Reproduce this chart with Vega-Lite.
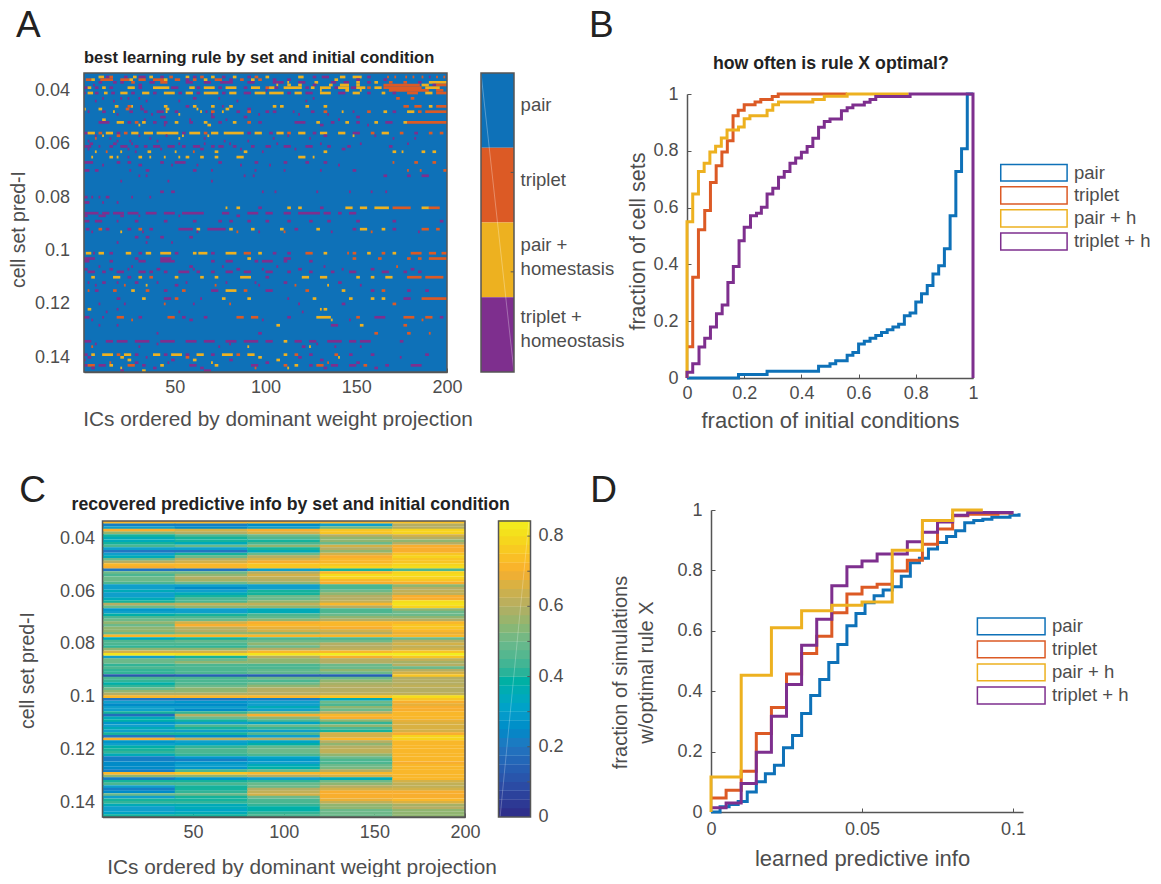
{"$schema":"https://vega.github.io/schema/vega-lite/v6.json","background":"white","padding":{"left":8,"top":6,"right":0,"bottom":0},"columns":3,"align":"none","bounds":"flush","spacing":{"row":132,"column":34},
"config":{"view":{"stroke":null},"font":"Liberation Sans","text":{"font":"Liberation Sans","color":"#4d4d4d"},"axis":{"labelFont":"Liberation Sans","titleFont":"Liberation Sans","labelFontSize":18,"titleFontSize":19.5,"titleFontWeight":"normal","labelColor":"#4d4d4d","titleColor":"#4d4d4d","domainColor":"#555","tickColor":"#555","domainWidth":1.5,"tickWidth":1,"grid":false,"tickSize":-4,"labelPadding":10,"labelOverlap":false,"labelBound":false,"labelFlush":false,"zindex":1}},
"datasets":{
"ruleCells":[
{"y":35,"x":8,"x2":11,"k":2},{"y":35,"x":12,"x2":14,"k":3},{"y":35,"x":14,"x2":16,"k":1},{"y":35,"x":22,"x2":24,"k":3},{"y":35,"x":27,"x2":29,"k":2},{"y":35,"x":30,"x2":34,"k":3},{"y":35,"x":36,"x2":38,"k":2},{"y":35,"x":42,"x2":44,"k":3},{"y":35,"x":47,"x2":49,"k":1},{"y":35,"x":56,"x2":58,"k":2},{"y":35,"x":60,"x2":62,"k":3},{"y":35,"x":64,"x2":66,"k":1},{"y":35,"x":70,"x2":72,"k":2},{"y":35,"x":76,"x2":78,"k":3},{"y":35,"x":82,"x2":84,"k":2},{"y":35,"x":90,"x2":92,"k":3},{"y":35,"x":94,"x2":96,"k":1},{"y":35,"x":100,"x2":102,"k":2},{"y":35,"x":118,"x2":121,"k":2},{"y":35,"x":126,"x2":128,"k":3},{"y":35,"x":131,"x2":135,"k":3},{"y":35,"x":141,"x2":144,"k":2},{"y":35,"x":148,"x2":153,"k":2},{"y":35,"x":156,"x2":158,"k":3},{"y":35,"x":167,"x2":168,"k":1},{"y":35,"x":171,"x2":172,"k":1},{"y":35,"x":177,"x2":178,"k":1},{"y":35,"x":181,"x2":182,"k":1},{"y":35,"x":186,"x2":187,"k":1},{"y":35,"x":190,"x2":191,"k":3},{"y":35,"x":194,"x2":195,"k":1},{"y":35,"x":198,"x2":199,"k":1},
{"y":36,"x":1,"x2":4,"k":1},{"y":36,"x":4,"x2":6,"k":2},{"y":36,"x":9,"x2":16,"k":1},{"y":36,"x":20,"x2":25,"k":1},{"y":36,"x":25,"x2":27,"k":2},{"y":36,"x":30,"x2":34,"k":1},{"y":36,"x":38,"x2":44,"k":1},{"y":36,"x":44,"x2":46,"k":2},{"y":36,"x":50,"x2":53,"k":1},{"y":36,"x":56,"x2":58,"k":3},{"y":36,"x":60,"x2":62,"k":1},{"y":36,"x":66,"x2":68,"k":2},{"y":36,"x":72,"x2":76,"k":1},{"y":36,"x":80,"x2":82,"k":3},{"y":36,"x":86,"x2":88,"k":1},{"y":36,"x":92,"x2":94,"k":2},{"y":36,"x":96,"x2":98,"k":1},{"y":36,"x":104,"x2":106,"k":3},{"y":36,"x":112,"x2":114,"k":3},{"y":36,"x":138,"x2":140,"k":2},{"y":36,"x":150,"x2":152,"k":3},{"y":36,"x":165,"x2":167,"k":3},
{"y":37,"x":8,"x2":10,"k":3},{"y":37,"x":16,"x2":18,"k":3},{"y":37,"x":20,"x2":22,"k":3},{"y":37,"x":26,"x2":28,"k":1},{"y":37,"x":36,"x2":39,"k":3},{"y":37,"x":42,"x2":46,"k":1},{"y":37,"x":56,"x2":60,"k":3},{"y":37,"x":66,"x2":70,"k":3},{"y":37,"x":75,"x2":82,"k":3},{"y":37,"x":90,"x2":94,"k":3},{"y":37,"x":104,"x2":110,"k":3},{"y":37,"x":112,"x2":113,"k":2},{"y":37,"x":118,"x2":122,"k":3},{"y":37,"x":127,"x2":129,"k":2},{"y":37,"x":136,"x2":139,"k":3},{"y":37,"x":143,"x2":146,"k":3},{"y":37,"x":150,"x2":152,"k":2},{"y":37,"x":156,"x2":158,"k":3},{"y":37,"x":160,"x2":162,"k":2},{"y":37,"x":168,"x2":170,"k":1},{"y":37,"x":176,"x2":178,"k":1},{"y":37,"x":184,"x2":186,"k":3},{"y":37,"x":190,"x2":200,"k":2},
{"y":38,"x":5,"x2":6,"k":3},{"y":38,"x":30,"x2":32,"k":3},{"y":38,"x":106,"x2":107,"k":2},{"y":38,"x":112,"x2":114,"k":2},{"y":38,"x":118,"x2":120,"k":2},{"y":38,"x":126,"x2":128,"k":3},{"y":38,"x":135,"x2":137,"k":2},{"y":38,"x":141,"x2":146,"k":2},{"y":38,"x":150,"x2":152,"k":2},{"y":38,"x":165,"x2":185,"k":1},{"y":38,"x":186,"x2":190,"k":2},{"y":38,"x":192,"x2":194,"k":3},{"y":38,"x":194,"x2":200,"k":1},
{"y":39,"x":0,"x2":2,"k":3},{"y":39,"x":2,"x2":4,"k":2},{"y":39,"x":6,"x2":8,"k":3},{"y":39,"x":10,"x2":12,"k":2},{"y":39,"x":14,"x2":16,"k":3},{"y":39,"x":24,"x2":28,"k":2},{"y":39,"x":30,"x2":32,"k":3},{"y":39,"x":38,"x2":47,"k":2},{"y":39,"x":48,"x2":52,"k":3},{"y":39,"x":58,"x2":61,"k":2},{"y":39,"x":62,"x2":64,"k":3},{"y":39,"x":66,"x2":72,"k":2},{"y":39,"x":74,"x2":76,"k":3},{"y":39,"x":78,"x2":84,"k":2},{"y":39,"x":88,"x2":90,"k":3},{"y":39,"x":92,"x2":97,"k":2},{"y":39,"x":100,"x2":102,"k":1},{"y":39,"x":102,"x2":105,"k":2},{"y":39,"x":105,"x2":107,"k":3},{"y":39,"x":110,"x2":120,"k":2},{"y":39,"x":122,"x2":124,"k":3},{"y":39,"x":125,"x2":127,"k":2},{"y":39,"x":130,"x2":136,"k":2},{"y":39,"x":138,"x2":140,"k":3},{"y":39,"x":140,"x2":146,"k":2},{"y":39,"x":147,"x2":150,"k":3},{"y":39,"x":150,"x2":155,"k":2},{"y":39,"x":156,"x2":158,"k":1},{"y":39,"x":160,"x2":164,"k":2},{"y":39,"x":165,"x2":186,"k":1},{"y":39,"x":188,"x2":196,"k":2},
{"y":40,"x":100,"x2":101,"k":3},{"y":40,"x":130,"x2":131,"k":2},{"y":40,"x":144,"x2":146,"k":2},{"y":40,"x":152,"x2":153,"k":2},{"y":40,"x":168,"x2":190,"k":1},{"y":40,"x":194,"x2":198,"k":1},
{"y":41,"x":0,"x2":1,"k":3},{"y":41,"x":2,"x2":5,"k":2},{"y":41,"x":6,"x2":8,"k":3},{"y":41,"x":11,"x2":13,"k":2},{"y":41,"x":15,"x2":17,"k":3},{"y":41,"x":20,"x2":24,"k":2},{"y":41,"x":26,"x2":28,"k":3},{"y":41,"x":32,"x2":36,"k":2},{"y":41,"x":38,"x2":40,"k":3},{"y":41,"x":44,"x2":50,"k":2},{"y":41,"x":52,"x2":54,"k":3},{"y":41,"x":56,"x2":60,"k":2},{"y":41,"x":62,"x2":64,"k":3},{"y":41,"x":66,"x2":74,"k":2},{"y":41,"x":76,"x2":78,"k":3},{"y":41,"x":80,"x2":84,"k":2},{"y":41,"x":88,"x2":92,"k":3},{"y":41,"x":94,"x2":100,"k":2},{"y":41,"x":102,"x2":110,"k":2},{"y":41,"x":112,"x2":114,"k":3},{"y":41,"x":116,"x2":120,"k":2},{"y":41,"x":122,"x2":126,"k":3},{"y":41,"x":130,"x2":136,"k":2},{"y":41,"x":140,"x2":144,"k":3},{"y":41,"x":148,"x2":152,"k":2},{"y":41,"x":156,"x2":158,"k":3},{"y":41,"x":164,"x2":166,"k":2},{"y":41,"x":170,"x2":172,"k":3},{"y":41,"x":178,"x2":184,"k":1},{"y":41,"x":188,"x2":192,"k":2},{"y":41,"x":194,"x2":200,"k":1},
{"y":43,"x":10,"x2":11,"k":3},{"y":43,"x":20,"x2":21,"k":3},{"y":43,"x":24,"x2":25,"k":3},{"y":43,"x":30,"x2":31,"k":3},{"y":43,"x":60,"x2":62,"k":3},{"y":43,"x":74,"x2":75,"k":3},{"y":43,"x":126,"x2":127,"k":3},{"y":43,"x":172,"x2":174,"k":1},{"y":43,"x":180,"x2":182,"k":1},
{"y":44,"x":6,"x2":7,"k":3},{"y":44,"x":16,"x2":17,"k":3},{"y":44,"x":34,"x2":35,"k":3},{"y":44,"x":52,"x2":53,"k":3},{"y":44,"x":84,"x2":85,"k":3},{"y":44,"x":122,"x2":123,"k":3},
{"y":46,"x":17,"x2":19,"k":2},{"y":46,"x":24,"x2":26,"k":1},{"y":46,"x":26,"x2":27,"k":2},{"y":46,"x":31,"x2":32,"k":3},{"y":46,"x":44,"x2":46,"k":2},{"y":46,"x":56,"x2":58,"k":3},{"y":46,"x":60,"x2":62,"k":2},{"y":46,"x":70,"x2":72,"k":2},{"y":46,"x":76,"x2":77,"k":3},{"y":46,"x":80,"x2":82,"k":2},{"y":46,"x":104,"x2":106,"k":2},{"y":46,"x":108,"x2":110,"k":2},{"y":46,"x":122,"x2":124,"k":2},{"y":46,"x":132,"x2":134,"k":2},{"y":46,"x":176,"x2":179,"k":1},{"y":46,"x":182,"x2":186,"k":1},{"y":46,"x":190,"x2":192,"k":2},{"y":46,"x":194,"x2":200,"k":1},
{"y":47,"x":0,"x2":1,"k":2},{"y":47,"x":8,"x2":10,"k":2},{"y":47,"x":23,"x2":25,"k":1},{"y":47,"x":31,"x2":33,"k":3},{"y":47,"x":45,"x2":47,"k":2},{"y":47,"x":62,"x2":63,"k":2},{"y":47,"x":78,"x2":80,"k":2},{"y":47,"x":90,"x2":92,"k":3},
{"y":48,"x":2,"x2":3,"k":3},{"y":48,"x":10,"x2":12,"k":3},{"y":48,"x":16,"x2":17,"k":2},{"y":48,"x":25,"x2":27,"k":3},{"y":48,"x":33,"x2":35,"k":3},{"y":48,"x":40,"x2":44,"k":3},{"y":48,"x":45,"x2":46,"k":2},{"y":48,"x":50,"x2":52,"k":3},{"y":48,"x":64,"x2":65,"k":2},{"y":48,"x":67,"x2":68,"k":3},{"y":48,"x":70,"x2":72,"k":1},{"y":48,"x":76,"x2":77,"k":2},{"y":48,"x":84,"x2":86,"k":3},{"y":48,"x":90,"x2":92,"k":1},{"y":48,"x":100,"x2":102,"k":3},{"y":48,"x":104,"x2":106,"k":3},{"y":48,"x":115,"x2":116,"k":3},{"y":48,"x":125,"x2":127,"k":3},{"y":48,"x":132,"x2":134,"k":1},{"y":48,"x":142,"x2":143,"k":2},{"y":48,"x":148,"x2":149,"k":3},{"y":48,"x":156,"x2":158,"k":1},{"y":48,"x":165,"x2":167,"k":2},{"y":48,"x":170,"x2":172,"k":3},{"y":48,"x":178,"x2":182,"k":2},{"y":48,"x":184,"x2":186,"k":1},{"y":48,"x":188,"x2":200,"k":1},
{"y":49,"x":18,"x2":19,"k":3},{"y":49,"x":37,"x2":38,"k":3},{"y":49,"x":52,"x2":53,"k":2},{"y":49,"x":70,"x2":71,"k":3},{"y":49,"x":96,"x2":97,"k":3},{"y":49,"x":118,"x2":119,"k":3},{"y":49,"x":134,"x2":135,"k":3},
{"y":50,"x":42,"x2":45,"k":3},{"y":50,"x":70,"x2":72,"k":3},{"y":50,"x":88,"x2":90,"k":3},{"y":50,"x":150,"x2":152,"k":3},
{"y":51,"x":10,"x2":12,"k":2},{"y":51,"x":33,"x2":34,"k":3},{"y":51,"x":58,"x2":59,"k":3},{"y":51,"x":78,"x2":79,"k":3},{"y":51,"x":140,"x2":141,"k":3},
{"y":52,"x":8,"x2":14,"k":3},{"y":52,"x":18,"x2":22,"k":2},{"y":52,"x":24,"x2":26,"k":3},{"y":52,"x":28,"x2":30,"k":1},{"y":52,"x":32,"x2":34,"k":2},{"y":52,"x":38,"x2":40,"k":3},{"y":52,"x":44,"x2":46,"k":3},{"y":52,"x":50,"x2":52,"k":2},{"y":52,"x":58,"x2":60,"k":3},{"y":52,"x":66,"x2":68,"k":2},{"y":52,"x":74,"x2":76,"k":3},{"y":52,"x":82,"x2":84,"k":2},{"y":52,"x":90,"x2":92,"k":1},{"y":52,"x":96,"x2":98,"k":3},{"y":52,"x":116,"x2":122,"k":3},{"y":52,"x":128,"x2":130,"k":2},{"y":52,"x":136,"x2":138,"k":3},{"y":52,"x":144,"x2":146,"k":2},{"y":52,"x":150,"x2":152,"k":3},{"y":52,"x":160,"x2":162,"k":2},{"y":52,"x":166,"x2":170,"k":3},{"y":52,"x":176,"x2":178,"k":2},{"y":52,"x":178,"x2":200,"k":1},
{"y":53,"x":30,"x2":31,"k":2},{"y":53,"x":44,"x2":45,"k":3},{"y":53,"x":68,"x2":70,"k":2},{"y":53,"x":130,"x2":132,"k":3},{"y":53,"x":156,"x2":157,"k":3},
{"y":56,"x":0,"x2":2,"k":3},{"y":56,"x":2,"x2":6,"k":2},{"y":56,"x":8,"x2":10,"k":1},{"y":56,"x":12,"x2":16,"k":2},{"y":56,"x":18,"x2":20,"k":3},{"y":56,"x":22,"x2":24,"k":1},{"y":56,"x":26,"x2":30,"k":2},{"y":56,"x":33,"x2":38,"k":2},{"y":56,"x":40,"x2":52,"k":2},{"y":56,"x":54,"x2":56,"k":3},{"y":56,"x":58,"x2":64,"k":2},{"y":56,"x":66,"x2":68,"k":1},{"y":56,"x":70,"x2":74,"k":2},{"y":56,"x":77,"x2":88,"k":2},{"y":56,"x":90,"x2":92,"k":3},{"y":56,"x":94,"x2":98,"k":2},{"y":56,"x":102,"x2":104,"k":3},{"y":56,"x":106,"x2":110,"k":2},{"y":56,"x":112,"x2":114,"k":1},{"y":56,"x":118,"x2":122,"k":2},{"y":56,"x":126,"x2":128,"k":3},{"y":56,"x":130,"x2":134,"k":2},{"y":56,"x":140,"x2":144,"k":2},{"y":56,"x":148,"x2":152,"k":3},{"y":56,"x":158,"x2":160,"k":1},{"y":56,"x":164,"x2":168,"k":2},{"y":56,"x":174,"x2":176,"k":1},{"y":56,"x":182,"x2":184,"k":3},{"y":56,"x":190,"x2":192,"k":1},{"y":56,"x":196,"x2":198,"k":1},
{"y":57,"x":6,"x2":7,"k":3},{"y":57,"x":10,"x2":11,"k":2},{"y":57,"x":18,"x2":20,"k":1},{"y":57,"x":30,"x2":31,"k":3},{"y":57,"x":45,"x2":46,"k":3},{"y":57,"x":54,"x2":55,"k":2},{"y":57,"x":68,"x2":69,"k":2},{"y":57,"x":112,"x2":113,"k":3},{"y":57,"x":132,"x2":134,"k":3},{"y":57,"x":148,"x2":149,"k":2},{"y":57,"x":160,"x2":161,"k":3},
{"y":58,"x":6,"x2":7,"k":1},{"y":58,"x":14,"x2":15,"k":3},{"y":58,"x":36,"x2":37,"k":3},{"y":58,"x":52,"x2":53,"k":2},{"y":58,"x":66,"x2":67,"k":3},{"y":58,"x":104,"x2":105,"k":3},{"y":58,"x":124,"x2":125,"k":3},{"y":58,"x":170,"x2":171,"k":3},{"y":58,"x":182,"x2":183,"k":3},
{"y":59,"x":2,"x2":3,"k":3},{"y":59,"x":18,"x2":19,"k":3},{"y":59,"x":25,"x2":26,"k":3},{"y":59,"x":40,"x2":41,"k":3},{"y":59,"x":77,"x2":78,"k":3},{"y":59,"x":90,"x2":91,"k":3},
{"y":60,"x":3,"x2":5,"k":3},{"y":60,"x":16,"x2":18,"k":3},{"y":60,"x":26,"x2":27,"k":3},{"y":60,"x":52,"x2":53,"k":3},{"y":60,"x":66,"x2":67,"k":3},{"y":60,"x":80,"x2":81,"k":3},{"y":60,"x":106,"x2":107,"k":3},{"y":60,"x":130,"x2":131,"k":3},{"y":60,"x":152,"x2":153,"k":3},{"y":60,"x":178,"x2":179,"k":3},
{"y":61,"x":0,"x2":4,"k":3},{"y":61,"x":8,"x2":9,"k":3},{"y":61,"x":14,"x2":16,"k":3},{"y":61,"x":20,"x2":24,"k":3},{"y":61,"x":28,"x2":30,"k":3},{"y":61,"x":33,"x2":35,"k":3},{"y":61,"x":38,"x2":42,"k":3},{"y":61,"x":46,"x2":50,"k":3},{"y":61,"x":54,"x2":56,"k":3},{"y":61,"x":60,"x2":64,"k":3},{"y":61,"x":70,"x2":72,"k":3},{"y":61,"x":74,"x2":77,"k":3},{"y":61,"x":82,"x2":84,"k":3},{"y":61,"x":92,"x2":94,"k":3},{"y":61,"x":100,"x2":103,"k":3},{"y":61,"x":110,"x2":114,"k":3},{"y":61,"x":122,"x2":126,"k":3},{"y":61,"x":134,"x2":136,"k":3},{"y":61,"x":145,"x2":147,"k":3},{"y":61,"x":168,"x2":170,"k":3},
{"y":62,"x":2,"x2":3,"k":3},{"y":62,"x":24,"x2":25,"k":3},{"y":62,"x":42,"x2":43,"k":3},{"y":62,"x":64,"x2":66,"k":3},{"y":62,"x":86,"x2":87,"k":3},{"y":62,"x":116,"x2":117,"k":3},{"y":62,"x":142,"x2":144,"k":3},
{"y":63,"x":6,"x2":7,"k":2},{"y":63,"x":12,"x2":13,"k":1},{"y":63,"x":20,"x2":21,"k":2},{"y":63,"x":28,"x2":29,"k":3},{"y":63,"x":35,"x2":37,"k":2},{"y":63,"x":50,"x2":51,"k":2},{"y":63,"x":60,"x2":61,"k":1},{"y":63,"x":72,"x2":74,"k":2},{"y":63,"x":88,"x2":90,"k":2},{"y":63,"x":98,"x2":99,"k":3},{"y":63,"x":132,"x2":134,"k":2},{"y":63,"x":170,"x2":172,"k":2},{"y":63,"x":175,"x2":176,"k":2},{"y":63,"x":186,"x2":188,"k":2},{"y":63,"x":192,"x2":194,"k":2},
{"y":65,"x":4,"x2":5,"k":2},{"y":65,"x":14,"x2":16,"k":2},{"y":65,"x":18,"x2":19,"k":2},{"y":65,"x":24,"x2":25,"k":3},{"y":65,"x":30,"x2":32,"k":2},{"y":65,"x":36,"x2":37,"k":2},{"y":65,"x":44,"x2":45,"k":2},{"y":65,"x":52,"x2":53,"k":2},{"y":65,"x":56,"x2":58,"k":2},{"y":65,"x":64,"x2":66,"k":2},{"y":65,"x":72,"x2":74,"k":2},{"y":65,"x":84,"x2":88,"k":2},{"y":65,"x":118,"x2":122,"k":2},{"y":65,"x":126,"x2":127,"k":2},
{"y":67,"x":0,"x2":5,"k":3},{"y":67,"x":18,"x2":20,"k":3},{"y":67,"x":24,"x2":26,"k":3},{"y":67,"x":42,"x2":44,"k":3},{"y":67,"x":50,"x2":56,"k":3},{"y":67,"x":74,"x2":76,"k":3},{"y":67,"x":94,"x2":96,"k":3},{"y":67,"x":110,"x2":112,"k":3},{"y":67,"x":122,"x2":124,"k":3},{"y":67,"x":132,"x2":134,"k":3},{"y":67,"x":170,"x2":171,"k":1},{"y":67,"x":182,"x2":184,"k":1},{"y":67,"x":192,"x2":194,"k":1},
{"y":68,"x":10,"x2":11,"k":3},{"y":68,"x":30,"x2":32,"k":3},{"y":68,"x":48,"x2":49,"k":3},{"y":68,"x":62,"x2":63,"k":3},{"y":68,"x":86,"x2":87,"k":3},{"y":68,"x":102,"x2":103,"k":3},{"y":68,"x":140,"x2":141,"k":3},
{"y":70,"x":0,"x2":3,"k":3},{"y":70,"x":6,"x2":8,"k":3},{"y":70,"x":25,"x2":26,"k":3},{"y":70,"x":34,"x2":36,"k":3},{"y":70,"x":60,"x2":62,"k":3},{"y":70,"x":70,"x2":71,"k":3},{"y":70,"x":94,"x2":95,"k":3},{"y":70,"x":110,"x2":111,"k":3},{"y":70,"x":130,"x2":131,"k":3},{"y":70,"x":148,"x2":150,"k":3},{"y":70,"x":178,"x2":179,"k":1},{"y":70,"x":185,"x2":186,"k":1},{"y":70,"x":198,"x2":200,"k":1},
{"y":72,"x":30,"x2":31,"k":3},{"y":72,"x":34,"x2":35,"k":3},{"y":72,"x":88,"x2":89,"k":3},{"y":72,"x":93,"x2":94,"k":3},{"y":72,"x":165,"x2":167,"k":3},{"y":72,"x":178,"x2":180,"k":3},{"y":72,"x":186,"x2":190,"k":3},
{"y":74,"x":20,"x2":21,"k":3},{"y":74,"x":46,"x2":47,"k":3},{"y":74,"x":70,"x2":71,"k":3},
{"y":78,"x":42,"x2":44,"k":3},{"y":78,"x":48,"x2":50,"k":3},{"y":78,"x":98,"x2":99,"k":3},{"y":78,"x":105,"x2":106,"k":3},{"y":78,"x":128,"x2":129,"k":3},{"y":78,"x":146,"x2":147,"k":3},{"y":78,"x":158,"x2":159,"k":3},{"y":78,"x":166,"x2":167,"k":3},
{"y":80,"x":0,"x2":2,"k":3},{"y":80,"x":4,"x2":5,"k":3},{"y":80,"x":8,"x2":9,"k":3},{"y":80,"x":12,"x2":14,"k":3},{"y":80,"x":26,"x2":27,"k":3},{"y":80,"x":36,"x2":37,"k":3},
{"y":82,"x":0,"x2":3,"k":3},{"y":82,"x":10,"x2":11,"k":3},{"y":82,"x":18,"x2":19,"k":3},
{"y":84,"x":78,"x2":79,"k":2},{"y":84,"x":84,"x2":86,"k":2},{"y":84,"x":96,"x2":98,"k":3},{"y":84,"x":112,"x2":114,"k":2},{"y":84,"x":118,"x2":120,"k":2},{"y":84,"x":130,"x2":132,"k":3},{"y":84,"x":144,"x2":148,"k":2},{"y":84,"x":152,"x2":156,"k":2},{"y":84,"x":160,"x2":168,"k":2},{"y":84,"x":170,"x2":180,"k":1},{"y":84,"x":186,"x2":190,"k":2},{"y":84,"x":190,"x2":196,"k":1},
{"y":86,"x":0,"x2":8,"k":3},{"y":86,"x":10,"x2":14,"k":3},{"y":86,"x":16,"x2":22,"k":3},{"y":86,"x":24,"x2":30,"k":3},{"y":86,"x":34,"x2":40,"k":3},{"y":86,"x":44,"x2":50,"k":3},{"y":86,"x":54,"x2":66,"k":3},{"y":86,"x":76,"x2":80,"k":3},{"y":86,"x":90,"x2":96,"k":3},{"y":86,"x":100,"x2":104,"k":3},{"y":86,"x":110,"x2":114,"k":3},{"y":86,"x":118,"x2":130,"k":3},{"y":86,"x":132,"x2":136,"k":3},{"y":86,"x":140,"x2":142,"k":3},{"y":86,"x":146,"x2":150,"k":3},
{"y":87,"x":0,"x2":2,"k":3},{"y":87,"x":8,"x2":12,"k":3},{"y":87,"x":20,"x2":22,"k":3},{"y":87,"x":30,"x2":31,"k":3},{"y":87,"x":52,"x2":53,"k":3},{"y":87,"x":84,"x2":86,"k":3},
{"y":89,"x":0,"x2":3,"k":3},{"y":89,"x":6,"x2":10,"k":3},{"y":89,"x":18,"x2":19,"k":3},{"y":89,"x":28,"x2":30,"k":3},{"y":89,"x":44,"x2":46,"k":3},{"y":89,"x":60,"x2":62,"k":3},{"y":89,"x":74,"x2":76,"k":3},{"y":89,"x":80,"x2":82,"k":3},{"y":89,"x":90,"x2":92,"k":3},{"y":89,"x":100,"x2":102,"k":3},{"y":89,"x":112,"x2":114,"k":3},{"y":89,"x":124,"x2":126,"k":3},{"y":89,"x":134,"x2":136,"k":3},{"y":89,"x":150,"x2":152,"k":3},{"y":89,"x":170,"x2":172,"k":3},{"y":89,"x":196,"x2":198,"k":3},
{"y":92,"x":1,"x2":3,"k":3},{"y":92,"x":8,"x2":10,"k":1},{"y":92,"x":12,"x2":14,"k":3},{"y":92,"x":24,"x2":26,"k":3},{"y":92,"x":30,"x2":32,"k":1},{"y":92,"x":36,"x2":38,"k":3},{"y":92,"x":52,"x2":60,"k":3},{"y":92,"x":62,"x2":64,"k":2},{"y":92,"x":68,"x2":78,"k":3},{"y":92,"x":80,"x2":82,"k":2},{"y":92,"x":92,"x2":94,"k":2},{"y":92,"x":108,"x2":110,"k":2},{"y":92,"x":116,"x2":118,"k":3},{"y":92,"x":128,"x2":130,"k":2},{"y":92,"x":148,"x2":150,"k":3},{"y":92,"x":152,"x2":156,"k":2},{"y":92,"x":164,"x2":166,"k":2},{"y":92,"x":170,"x2":172,"k":3},{"y":92,"x":186,"x2":190,"k":1},{"y":92,"x":194,"x2":196,"k":1},
{"y":93,"x":4,"x2":5,"k":3},{"y":93,"x":20,"x2":21,"k":2},{"y":93,"x":32,"x2":33,"k":3},{"y":93,"x":62,"x2":63,"k":3},{"y":93,"x":84,"x2":85,"k":1},{"y":93,"x":96,"x2":97,"k":3},{"y":93,"x":110,"x2":111,"k":1},{"y":93,"x":136,"x2":137,"k":3},{"y":93,"x":158,"x2":159,"k":1},{"y":93,"x":184,"x2":185,"k":3},
{"y":95,"x":28,"x2":30,"k":3},{"y":95,"x":34,"x2":36,"k":3},{"y":95,"x":42,"x2":44,"k":3},{"y":95,"x":58,"x2":60,"k":3},
{"y":97,"x":18,"x2":19,"k":3},{"y":97,"x":34,"x2":35,"k":3},{"y":97,"x":48,"x2":49,"k":3},
{"y":101,"x":1,"x2":4,"k":2},{"y":101,"x":5,"x2":6,"k":3},{"y":101,"x":8,"x2":11,"k":2},{"y":101,"x":14,"x2":16,"k":3},{"y":101,"x":23,"x2":26,"k":2},{"y":101,"x":30,"x2":32,"k":3},{"y":101,"x":34,"x2":37,"k":2},{"y":101,"x":42,"x2":48,"k":2},{"y":101,"x":50,"x2":52,"k":3},{"y":101,"x":60,"x2":62,"k":2},{"y":101,"x":63,"x2":68,"k":2},{"y":101,"x":70,"x2":72,"k":3},{"y":101,"x":78,"x2":84,"k":2},{"y":101,"x":88,"x2":92,"k":1},{"y":101,"x":96,"x2":98,"k":2},{"y":101,"x":104,"x2":106,"k":3},{"y":101,"x":112,"x2":114,"k":3},{"y":101,"x":122,"x2":126,"k":1},{"y":101,"x":132,"x2":134,"k":2},{"y":101,"x":145,"x2":146,"k":1},{"y":101,"x":148,"x2":150,"k":1},{"y":101,"x":156,"x2":158,"k":2},{"y":101,"x":164,"x2":166,"k":1},{"y":101,"x":170,"x2":172,"k":2},{"y":101,"x":180,"x2":186,"k":1},{"y":101,"x":190,"x2":194,"k":1},{"y":101,"x":197,"x2":200,"k":1},
{"y":103,"x":0,"x2":6,"k":3},{"y":103,"x":28,"x2":30,"k":3},{"y":103,"x":42,"x2":48,"k":3},{"y":103,"x":90,"x2":92,"k":2},{"y":103,"x":110,"x2":114,"k":3},{"y":103,"x":148,"x2":150,"k":1},{"y":103,"x":162,"x2":164,"k":1},{"y":103,"x":178,"x2":180,"k":1},{"y":103,"x":184,"x2":186,"k":1},{"y":103,"x":190,"x2":200,"k":1},
{"y":104,"x":0,"x2":3,"k":3},{"y":104,"x":14,"x2":16,"k":3},{"y":104,"x":30,"x2":34,"k":3},{"y":104,"x":42,"x2":50,"k":3},{"y":104,"x":70,"x2":72,"k":3},{"y":104,"x":78,"x2":82,"k":3},{"y":104,"x":94,"x2":96,"k":3},{"y":104,"x":98,"x2":104,"k":3},{"y":104,"x":110,"x2":112,"k":3},{"y":104,"x":124,"x2":126,"k":3},
{"y":106,"x":8,"x2":9,"k":3},{"y":106,"x":26,"x2":27,"k":3},{"y":106,"x":58,"x2":60,"k":3},{"y":106,"x":76,"x2":77,"k":3},{"y":106,"x":106,"x2":107,"k":3},{"y":106,"x":132,"x2":133,"k":3},{"y":106,"x":172,"x2":173,"k":1},
{"y":107,"x":0,"x2":2,"k":3},{"y":107,"x":14,"x2":16,"k":3},{"y":107,"x":24,"x2":25,"k":3},{"y":107,"x":40,"x2":42,"k":3},{"y":107,"x":60,"x2":61,"k":3},{"y":107,"x":84,"x2":86,"k":3},{"y":107,"x":98,"x2":99,"k":3},{"y":107,"x":118,"x2":120,"k":3},{"y":107,"x":142,"x2":143,"k":3},{"y":107,"x":158,"x2":160,"k":3},{"y":107,"x":180,"x2":182,"k":3},
{"y":108,"x":2,"x2":6,"k":3},{"y":108,"x":10,"x2":12,"k":3},{"y":108,"x":18,"x2":22,"k":3},{"y":108,"x":30,"x2":34,"k":3},{"y":108,"x":36,"x2":38,"k":3},{"y":108,"x":44,"x2":46,"k":3},{"y":108,"x":52,"x2":58,"k":3},{"y":108,"x":62,"x2":64,"k":3},{"y":108,"x":70,"x2":72,"k":3},{"y":108,"x":78,"x2":82,"k":3},{"y":108,"x":88,"x2":92,"k":3},{"y":108,"x":100,"x2":104,"k":3},{"y":108,"x":112,"x2":114,"k":3},{"y":108,"x":124,"x2":126,"k":3},{"y":108,"x":136,"x2":138,"k":3},{"y":108,"x":146,"x2":150,"k":3},{"y":108,"x":164,"x2":168,"k":3},{"y":108,"x":176,"x2":178,"k":3},{"y":108,"x":184,"x2":186,"k":3},
{"y":110,"x":4,"x2":6,"k":2},{"y":110,"x":16,"x2":20,"k":2},{"y":110,"x":24,"x2":26,"k":3},{"y":110,"x":30,"x2":32,"k":2},{"y":110,"x":36,"x2":38,"k":1},{"y":110,"x":50,"x2":52,"k":2},{"y":110,"x":64,"x2":66,"k":2},{"y":110,"x":72,"x2":74,"k":2},{"y":110,"x":86,"x2":92,"k":2},{"y":110,"x":100,"x2":102,"k":3},{"y":110,"x":120,"x2":124,"k":2},{"y":110,"x":130,"x2":134,"k":2},{"y":110,"x":150,"x2":152,"k":2},{"y":110,"x":158,"x2":160,"k":2},{"y":110,"x":166,"x2":170,"k":2},{"y":110,"x":178,"x2":186,"k":1},{"y":110,"x":188,"x2":198,"k":1},
{"y":112,"x":2,"x2":3,"k":3},{"y":112,"x":10,"x2":12,"k":3},{"y":112,"x":18,"x2":19,"k":3},{"y":112,"x":28,"x2":30,"k":3},{"y":112,"x":40,"x2":41,"k":3},{"y":112,"x":56,"x2":57,"k":3},{"y":112,"x":78,"x2":79,"k":3},{"y":112,"x":94,"x2":95,"k":3},{"y":112,"x":110,"x2":112,"k":3},{"y":112,"x":140,"x2":142,"k":3},
{"y":113,"x":6,"x2":7,"k":3},{"y":113,"x":22,"x2":23,"k":1},{"y":113,"x":34,"x2":35,"k":2},{"y":113,"x":50,"x2":52,"k":3},{"y":113,"x":72,"x2":73,"k":1},{"y":113,"x":96,"x2":97,"k":3},{"y":113,"x":116,"x2":117,"k":1},{"y":113,"x":134,"x2":135,"k":2},{"y":113,"x":152,"x2":153,"k":3},
{"y":115,"x":2,"x2":3,"k":1},{"y":115,"x":6,"x2":8,"k":3},{"y":115,"x":16,"x2":18,"k":1},{"y":115,"x":26,"x2":28,"k":2},{"y":115,"x":34,"x2":36,"k":1},{"y":115,"x":44,"x2":46,"k":3},{"y":115,"x":54,"x2":56,"k":1},{"y":115,"x":70,"x2":74,"k":3},{"y":115,"x":78,"x2":84,"k":2},{"y":115,"x":88,"x2":90,"k":1},{"y":115,"x":100,"x2":104,"k":3},{"y":115,"x":122,"x2":124,"k":1},{"y":115,"x":142,"x2":144,"k":2},{"y":115,"x":158,"x2":160,"k":3},{"y":115,"x":164,"x2":166,"k":1},{"y":115,"x":178,"x2":180,"k":3},{"y":115,"x":188,"x2":190,"k":3},
{"y":118,"x":18,"x2":20,"k":3},{"y":118,"x":32,"x2":34,"k":2},{"y":118,"x":44,"x2":48,"k":3},{"y":118,"x":50,"x2":52,"k":1},{"y":118,"x":64,"x2":65,"k":3},{"y":118,"x":76,"x2":78,"k":2},{"y":118,"x":90,"x2":92,"k":2},{"y":118,"x":112,"x2":113,"k":3},{"y":118,"x":126,"x2":128,"k":2},{"y":118,"x":146,"x2":148,"k":2},{"y":118,"x":158,"x2":160,"k":2},{"y":118,"x":164,"x2":166,"k":2},{"y":118,"x":176,"x2":180,"k":3},{"y":118,"x":186,"x2":200,"k":1},
{"y":120,"x":8,"x2":9,"k":3},{"y":120,"x":22,"x2":23,"k":3},{"y":120,"x":44,"x2":45,"k":1},{"y":120,"x":60,"x2":61,"k":3},{"y":120,"x":80,"x2":81,"k":1},{"y":120,"x":118,"x2":119,"k":3},{"y":120,"x":142,"x2":144,"k":3},{"y":120,"x":170,"x2":172,"k":1},
{"y":122,"x":2,"x2":4,"k":2},{"y":122,"x":18,"x2":19,"k":3},{"y":122,"x":130,"x2":131,"k":2},{"y":122,"x":132,"x2":134,"k":2},
{"y":123,"x":12,"x2":13,"k":3},{"y":123,"x":52,"x2":53,"k":3},{"y":123,"x":120,"x2":121,"k":3},
{"y":125,"x":0,"x2":3,"k":3},{"y":125,"x":10,"x2":11,"k":3},{"y":125,"x":18,"x2":22,"k":1},{"y":125,"x":30,"x2":32,"k":3},{"y":125,"x":46,"x2":50,"k":1},{"y":125,"x":54,"x2":56,"k":3},{"y":125,"x":66,"x2":68,"k":3},{"y":125,"x":84,"x2":88,"k":1},{"y":125,"x":92,"x2":96,"k":1},{"y":125,"x":112,"x2":114,"k":3},{"y":125,"x":128,"x2":136,"k":2},{"y":125,"x":150,"x2":152,"k":1},{"y":125,"x":160,"x2":166,"k":3},{"y":125,"x":176,"x2":182,"k":1},{"y":125,"x":188,"x2":192,"k":1},{"y":125,"x":196,"x2":198,"k":3},
{"y":126,"x":4,"x2":5,"k":3},{"y":126,"x":26,"x2":27,"k":1},{"y":126,"x":58,"x2":60,"k":3},{"y":126,"x":98,"x2":99,"k":3},{"y":126,"x":136,"x2":137,"k":2},{"y":126,"x":146,"x2":147,"k":3},{"y":126,"x":186,"x2":187,"k":1},
{"y":128,"x":8,"x2":9,"k":3},{"y":128,"x":18,"x2":19,"k":3},{"y":128,"x":106,"x2":108,"k":2},{"y":128,"x":136,"x2":140,"k":3},{"y":128,"x":152,"x2":154,"k":2},{"y":128,"x":176,"x2":178,"k":1},
{"y":131,"x":40,"x2":41,"k":3},{"y":131,"x":96,"x2":98,"k":3},{"y":131,"x":160,"x2":162,"k":1},{"y":131,"x":178,"x2":180,"k":1},{"y":131,"x":190,"x2":191,"k":1},
{"y":134,"x":0,"x2":4,"k":3},{"y":134,"x":12,"x2":16,"k":3},{"y":134,"x":18,"x2":24,"k":3},{"y":134,"x":28,"x2":36,"k":3},{"y":134,"x":42,"x2":50,"k":3},{"y":134,"x":56,"x2":62,"k":3},{"y":134,"x":66,"x2":72,"k":3},{"y":134,"x":78,"x2":84,"k":3},{"y":134,"x":88,"x2":96,"k":3},{"y":134,"x":100,"x2":104,"k":3},{"y":134,"x":110,"x2":112,"k":2},{"y":134,"x":116,"x2":120,"k":3},{"y":134,"x":124,"x2":128,"k":3},{"y":134,"x":134,"x2":142,"k":3},{"y":134,"x":146,"x2":150,"k":3},{"y":134,"x":152,"x2":158,"k":3},{"y":134,"x":174,"x2":176,"k":3},
{"y":135,"x":6,"x2":7,"k":3},{"y":135,"x":40,"x2":41,"k":3},{"y":135,"x":80,"x2":81,"k":3},{"y":135,"x":128,"x2":129,"k":3},
{"y":136,"x":4,"x2":5,"k":1},{"y":136,"x":30,"x2":31,"k":3},{"y":136,"x":74,"x2":75,"k":3},{"y":136,"x":90,"x2":91,"k":2},{"y":136,"x":120,"x2":122,"k":3},{"y":136,"x":124,"x2":125,"k":2},{"y":136,"x":138,"x2":139,"k":3},{"y":136,"x":152,"x2":153,"k":3},
{"y":139,"x":0,"x2":2,"k":3},{"y":139,"x":4,"x2":6,"k":2},{"y":139,"x":10,"x2":16,"k":2},{"y":139,"x":18,"x2":20,"k":1},{"y":139,"x":22,"x2":26,"k":2},{"y":139,"x":28,"x2":30,"k":3},{"y":139,"x":38,"x2":42,"k":2},{"y":139,"x":44,"x2":46,"k":3},{"y":139,"x":48,"x2":54,"k":2},{"y":139,"x":56,"x2":58,"k":3},{"y":139,"x":62,"x2":66,"k":2},{"y":139,"x":70,"x2":72,"k":3},{"y":139,"x":76,"x2":82,"k":2},{"y":139,"x":84,"x2":86,"k":1},{"y":139,"x":90,"x2":94,"k":2},{"y":139,"x":110,"x2":112,"k":2},{"y":139,"x":116,"x2":118,"k":1},{"y":139,"x":124,"x2":126,"k":3},{"y":139,"x":138,"x2":140,"k":1},{"y":139,"x":146,"x2":148,"k":3},{"y":139,"x":158,"x2":160,"k":3},{"y":139,"x":188,"x2":190,"k":3},
{"y":140,"x":2,"x2":4,"k":3},{"y":140,"x":20,"x2":22,"k":2},{"y":140,"x":34,"x2":35,"k":3},{"y":140,"x":56,"x2":58,"k":1},{"y":140,"x":96,"x2":98,"k":2},{"y":140,"x":118,"x2":120,"k":3},{"y":140,"x":140,"x2":141,"k":2},{"y":140,"x":174,"x2":175,"k":3},
{"y":141,"x":0,"x2":1,"k":3},{"y":141,"x":24,"x2":26,"k":2},{"y":141,"x":48,"x2":50,"k":3},{"y":141,"x":60,"x2":62,"k":2},{"y":141,"x":80,"x2":82,"k":3},{"y":141,"x":106,"x2":108,"k":2},{"y":141,"x":130,"x2":132,"k":3},
{"y":142,"x":14,"x2":15,"k":1},{"y":142,"x":28,"x2":30,"k":3},{"y":142,"x":46,"x2":47,"k":3},{"y":142,"x":70,"x2":71,"k":2},{"y":142,"x":100,"x2":102,"k":3},{"y":142,"x":134,"x2":135,"k":1},{"y":142,"x":150,"x2":152,"k":3},
{"y":143,"x":0,"x2":2,"k":3},{"y":143,"x":2,"x2":6,"k":1},{"y":143,"x":8,"x2":12,"k":3},{"y":143,"x":14,"x2":16,"k":2},{"y":143,"x":24,"x2":28,"k":1},{"y":143,"x":32,"x2":34,"k":3},{"y":143,"x":42,"x2":44,"k":2},{"y":143,"x":58,"x2":62,"k":3},{"y":143,"x":72,"x2":74,"k":2},{"y":143,"x":92,"x2":96,"k":3},{"y":143,"x":110,"x2":112,"k":1},{"y":143,"x":116,"x2":118,"k":2},{"y":143,"x":124,"x2":126,"k":3},{"y":143,"x":128,"x2":132,"k":1},{"y":143,"x":136,"x2":140,"k":3},{"y":143,"x":146,"x2":150,"k":3},{"y":143,"x":154,"x2":156,"k":1},{"y":143,"x":166,"x2":168,"k":3},{"y":143,"x":180,"x2":186,"k":3},
{"y":144,"x":4,"x2":6,"k":3},{"y":144,"x":20,"x2":21,"k":2},{"y":144,"x":38,"x2":40,"k":3},{"y":144,"x":64,"x2":66,"k":3},{"y":144,"x":94,"x2":95,"k":1},{"y":144,"x":112,"x2":113,"k":2},{"y":144,"x":132,"x2":134,"k":3},{"y":144,"x":160,"x2":162,"k":3},
{"y":145,"x":20,"x2":22,"k":3},{"y":145,"x":32,"x2":34,"k":2},{"y":145,"x":66,"x2":70,"k":3}
],
"infoCells":[
{"y":34,"x":20,"v":0.72},{"y":34,"x":60,"v":0.72},{"y":34,"x":100,"v":0.72},{"y":34,"x":140,"v":0.72},{"y":34,"x":180,"v":0.74},
{"y":35,"x":20,"v":0.22},{"y":35,"x":60,"v":0.22},{"y":35,"x":100,"v":0.25},{"y":35,"x":140,"v":0.3},{"y":35,"x":180,"v":0.6},
{"y":36,"x":20,"v":0.3},{"y":36,"x":60,"v":0.25},{"y":36,"x":100,"v":0.3},{"y":36,"x":140,"v":0.5},{"y":36,"x":180,"v":0.6},
{"y":37,"x":20,"v":0.7},{"y":37,"x":60,"v":0.65},{"y":37,"x":100,"v":0.7},{"y":37,"x":140,"v":0.75},{"y":37,"x":180,"v":0.78},
{"y":38,"x":20,"v":0.55},{"y":38,"x":60,"v":0.6},{"y":38,"x":100,"v":0.65},{"y":38,"x":140,"v":0.75},{"y":38,"x":180,"v":0.78},
{"y":39,"x":20,"v":0.4},{"y":39,"x":60,"v":0.45},{"y":39,"x":100,"v":0.5},{"y":39,"x":140,"v":0.6},{"y":39,"x":180,"v":0.65},
{"y":40,"x":20,"v":0.35},{"y":40,"x":60,"v":0.4},{"y":40,"x":100,"v":0.45},{"y":40,"x":140,"v":0.55},{"y":40,"x":180,"v":0.6},
{"y":41,"x":20,"v":0.35},{"y":41,"x":60,"v":0.4},{"y":41,"x":100,"v":0.4},{"y":41,"x":140,"v":0.55},{"y":41,"x":180,"v":0.55},
{"y":42,"x":20,"v":0.4},{"y":42,"x":60,"v":0.35},{"y":42,"x":100,"v":0.45},{"y":42,"x":140,"v":0.5},{"y":42,"x":180,"v":0.6},
{"y":43,"x":20,"v":0.45},{"y":43,"x":60,"v":0.5},{"y":43,"x":100,"v":0.55},{"y":43,"x":140,"v":0.65},{"y":43,"x":180,"v":0.7},
{"y":44,"x":20,"v":0.3},{"y":44,"x":60,"v":0.3},{"y":44,"x":100,"v":0.4},{"y":44,"x":140,"v":0.6},{"y":44,"x":180,"v":0.7},
{"y":45,"x":20,"v":0.2},{"y":45,"x":60,"v":0.2},{"y":45,"x":100,"v":0.35},{"y":45,"x":140,"v":0.55},{"y":45,"x":180,"v":0.7},
{"y":46,"x":20,"v":0.3},{"y":46,"x":60,"v":0.4},{"y":46,"x":100,"v":0.5},{"y":46,"x":140,"v":0.65},{"y":46,"x":180,"v":0.75},
{"y":47,"x":20,"v":0.35},{"y":47,"x":60,"v":0.5},{"y":47,"x":100,"v":0.6},{"y":47,"x":140,"v":0.7},{"y":47,"x":180,"v":0.78},
{"y":48,"x":20,"v":0.5},{"y":48,"x":60,"v":0.6},{"y":48,"x":100,"v":0.65},{"y":48,"x":140,"v":0.72},{"y":48,"x":180,"v":0.75},
{"y":49,"x":20,"v":0.6},{"y":49,"x":60,"v":0.65},{"y":49,"x":100,"v":0.7},{"y":49,"x":140,"v":0.72},{"y":49,"x":180,"v":0.75},
{"y":50,"x":20,"v":0.72},{"y":50,"x":60,"v":0.72},{"y":50,"x":100,"v":0.75},{"y":50,"x":140,"v":0.75},{"y":50,"x":180,"v":0.78},
{"y":51,"x":20,"v":0.7},{"y":51,"x":60,"v":0.72},{"y":51,"x":100,"v":0.75},{"y":51,"x":140,"v":0.78},{"y":51,"x":180,"v":0.8},
{"y":52,"x":20,"v":0.2},{"y":52,"x":60,"v":0.2},{"y":52,"x":100,"v":0.3},{"y":52,"x":140,"v":0.4},{"y":52,"x":180,"v":0.45},
{"y":53,"x":20,"v":0.5},{"y":53,"x":60,"v":0.5},{"y":53,"x":100,"v":0.6},{"y":53,"x":140,"v":0.72},{"y":53,"x":180,"v":0.78},
{"y":54,"x":20,"v":0.45},{"y":54,"x":60,"v":0.55},{"y":54,"x":100,"v":0.65},{"y":54,"x":140,"v":0.8},{"y":54,"x":180,"v":0.8},
{"y":55,"x":20,"v":0.5},{"y":55,"x":60,"v":0.6},{"y":55,"x":100,"v":0.62},{"y":55,"x":140,"v":0.78},{"y":55,"x":180,"v":0.78},
{"y":56,"x":20,"v":0.5},{"y":56,"x":60,"v":0.58},{"y":56,"x":100,"v":0.6},{"y":56,"x":140,"v":0.72},{"y":56,"x":180,"v":0.75},
{"y":57,"x":20,"v":0.45},{"y":57,"x":60,"v":0.5},{"y":57,"x":100,"v":0.55},{"y":57,"x":140,"v":0.7},{"y":57,"x":180,"v":0.7},
{"y":58,"x":20,"v":0.3},{"y":58,"x":60,"v":0.3},{"y":58,"x":100,"v":0.3},{"y":58,"x":140,"v":0.45},{"y":58,"x":180,"v":0.55},
{"y":59,"x":20,"v":0.3},{"y":59,"x":60,"v":0.25},{"y":59,"x":100,"v":0.3},{"y":59,"x":140,"v":0.45},{"y":59,"x":180,"v":0.6},
{"y":60,"x":20,"v":0.35},{"y":60,"x":60,"v":0.3},{"y":60,"x":100,"v":0.4},{"y":60,"x":140,"v":0.5},{"y":60,"x":180,"v":0.62},
{"y":61,"x":20,"v":0.3},{"y":61,"x":60,"v":0.35},{"y":61,"x":100,"v":0.4},{"y":61,"x":140,"v":0.55},{"y":61,"x":180,"v":0.62},
{"y":62,"x":20,"v":0.3},{"y":62,"x":60,"v":0.4},{"y":62,"x":100,"v":0.5},{"y":62,"x":140,"v":0.6},{"y":62,"x":180,"v":0.7},
{"y":63,"x":20,"v":0.35},{"y":63,"x":60,"v":0.45},{"y":63,"x":100,"v":0.5},{"y":63,"x":140,"v":0.6},{"y":63,"x":180,"v":0.7},
{"y":64,"x":20,"v":0.4},{"y":64,"x":60,"v":0.45},{"y":64,"x":100,"v":0.55},{"y":64,"x":140,"v":0.62},{"y":64,"x":180,"v":0.8},
{"y":65,"x":20,"v":0.6},{"y":65,"x":60,"v":0.62},{"y":65,"x":100,"v":0.62},{"y":65,"x":140,"v":0.72},{"y":65,"x":180,"v":0.82},
{"y":66,"x":20,"v":0.5},{"y":66,"x":60,"v":0.55},{"y":66,"x":100,"v":0.55},{"y":66,"x":140,"v":0.6},{"y":66,"x":180,"v":0.78},
{"y":67,"x":20,"v":0.28},{"y":67,"x":60,"v":0.3},{"y":67,"x":100,"v":0.35},{"y":67,"x":140,"v":0.45},{"y":67,"x":180,"v":0.55},
{"y":68,"x":20,"v":0.3},{"y":68,"x":60,"v":0.3},{"y":68,"x":100,"v":0.35},{"y":68,"x":140,"v":0.45},{"y":68,"x":180,"v":0.5},
{"y":69,"x":20,"v":0.38},{"y":69,"x":60,"v":0.4},{"y":69,"x":100,"v":0.45},{"y":69,"x":140,"v":0.5},{"y":69,"x":180,"v":0.5},
{"y":70,"x":20,"v":0.45},{"y":70,"x":60,"v":0.45},{"y":70,"x":100,"v":0.48},{"y":70,"x":140,"v":0.55},{"y":70,"x":180,"v":0.55},
{"y":71,"x":20,"v":0.5},{"y":71,"x":60,"v":0.5},{"y":71,"x":100,"v":0.55},{"y":71,"x":140,"v":0.6},{"y":71,"x":180,"v":0.6},
{"y":72,"x":20,"v":0.55},{"y":72,"x":60,"v":0.65},{"y":72,"x":100,"v":0.7},{"y":72,"x":140,"v":0.72},{"y":72,"x":180,"v":0.72},
{"y":73,"x":20,"v":0.5},{"y":73,"x":60,"v":0.7},{"y":73,"x":100,"v":0.72},{"y":73,"x":140,"v":0.72},{"y":73,"x":180,"v":0.75},
{"y":74,"x":20,"v":0.55},{"y":74,"x":60,"v":0.62},{"y":74,"x":100,"v":0.68},{"y":74,"x":140,"v":0.7},{"y":74,"x":180,"v":0.75},
{"y":75,"x":20,"v":0.55},{"y":75,"x":60,"v":0.6},{"y":75,"x":100,"v":0.65},{"y":75,"x":140,"v":0.65},{"y":75,"x":180,"v":0.72},
{"y":76,"x":20,"v":0.5},{"y":76,"x":60,"v":0.55},{"y":76,"x":100,"v":0.55},{"y":76,"x":140,"v":0.6},{"y":76,"x":180,"v":0.68},
{"y":77,"x":20,"v":0.72},{"y":77,"x":60,"v":0.72},{"y":77,"x":100,"v":0.72},{"y":77,"x":140,"v":0.72},{"y":77,"x":180,"v":0.72},
{"y":78,"x":20,"v":0.35},{"y":78,"x":60,"v":0.4},{"y":78,"x":100,"v":0.45},{"y":78,"x":140,"v":0.45},{"y":78,"x":180,"v":0.5},
{"y":79,"x":20,"v":0.45},{"y":79,"x":60,"v":0.48},{"y":79,"x":100,"v":0.5},{"y":79,"x":140,"v":0.5},{"y":79,"x":180,"v":0.6},
{"y":80,"x":20,"v":0.45},{"y":80,"x":60,"v":0.45},{"y":80,"x":100,"v":0.55},{"y":80,"x":140,"v":0.6},{"y":80,"x":180,"v":0.65},
{"y":81,"x":20,"v":0.42},{"y":81,"x":60,"v":0.42},{"y":81,"x":100,"v":0.5},{"y":81,"x":140,"v":0.6},{"y":81,"x":180,"v":0.62},
{"y":82,"x":20,"v":0.55},{"y":82,"x":60,"v":0.55},{"y":82,"x":100,"v":0.6},{"y":82,"x":140,"v":0.62},{"y":82,"x":180,"v":0.65},
{"y":83,"x":20,"v":0.65},{"y":83,"x":60,"v":0.65},{"y":83,"x":100,"v":0.72},{"y":83,"x":140,"v":0.72},{"y":83,"x":180,"v":0.75},
{"y":84,"x":20,"v":0.82},{"y":84,"x":60,"v":0.8},{"y":84,"x":100,"v":0.82},{"y":84,"x":140,"v":0.84},{"y":84,"x":180,"v":0.84},
{"y":85,"x":20,"v":0.3},{"y":85,"x":60,"v":0.4},{"y":85,"x":100,"v":0.6},{"y":85,"x":140,"v":0.7},{"y":85,"x":180,"v":0.75},
{"y":86,"x":20,"v":0.5},{"y":86,"x":60,"v":0.5},{"y":86,"x":100,"v":0.55},{"y":86,"x":140,"v":0.6},{"y":86,"x":180,"v":0.62},
{"y":87,"x":20,"v":0.5},{"y":87,"x":60,"v":0.55},{"y":87,"x":100,"v":0.55},{"y":87,"x":140,"v":0.6},{"y":87,"x":180,"v":0.58},
{"y":88,"x":20,"v":0.42},{"y":88,"x":60,"v":0.45},{"y":88,"x":100,"v":0.45},{"y":88,"x":140,"v":0.5},{"y":88,"x":180,"v":0.6},
{"y":89,"x":20,"v":0.45},{"y":89,"x":60,"v":0.45},{"y":89,"x":100,"v":0.45},{"y":89,"x":140,"v":0.5},{"y":89,"x":180,"v":0.5},
{"y":90,"x":20,"v":0.42},{"y":90,"x":60,"v":0.45},{"y":90,"x":100,"v":0.48},{"y":90,"x":140,"v":0.55},{"y":90,"x":180,"v":0.6},
{"y":91,"x":20,"v":0.42},{"y":91,"x":60,"v":0.45},{"y":91,"x":100,"v":0.48},{"y":91,"x":140,"v":0.5},{"y":91,"x":180,"v":0.65},
{"y":92,"x":20,"v":0.12},{"y":92,"x":60,"v":0.14},{"y":92,"x":100,"v":0.14},{"y":92,"x":140,"v":0.14},{"y":92,"x":180,"v":0.75},
{"y":93,"x":20,"v":0.45},{"y":93,"x":60,"v":0.45},{"y":93,"x":100,"v":0.5},{"y":93,"x":140,"v":0.5},{"y":93,"x":180,"v":0.6},
{"y":94,"x":20,"v":0.42},{"y":94,"x":60,"v":0.45},{"y":94,"x":100,"v":0.45},{"y":94,"x":140,"v":0.55},{"y":94,"x":180,"v":0.6},
{"y":95,"x":20,"v":0.38},{"y":95,"x":60,"v":0.45},{"y":95,"x":100,"v":0.5},{"y":95,"x":140,"v":0.58},{"y":95,"x":180,"v":0.6},
{"y":96,"x":20,"v":0.42},{"y":96,"x":60,"v":0.5},{"y":96,"x":100,"v":0.55},{"y":96,"x":140,"v":0.6},{"y":96,"x":180,"v":0.62},
{"y":97,"x":20,"v":0.5},{"y":97,"x":60,"v":0.55},{"y":97,"x":100,"v":0.6},{"y":97,"x":140,"v":0.6},{"y":97,"x":180,"v":0.6},
{"y":98,"x":20,"v":0.55},{"y":98,"x":60,"v":0.55},{"y":98,"x":100,"v":0.6},{"y":98,"x":140,"v":0.6},{"y":98,"x":180,"v":0.6},
{"y":99,"x":20,"v":0.6},{"y":99,"x":60,"v":0.6},{"y":99,"x":100,"v":0.6},{"y":99,"x":140,"v":0.62},{"y":99,"x":180,"v":0.62},
{"y":100,"x":20,"v":0.72},{"y":100,"x":60,"v":0.72},{"y":100,"x":100,"v":0.72},{"y":100,"x":140,"v":0.75},{"y":100,"x":180,"v":0.8},
{"y":101,"x":20,"v":0.2},{"y":101,"x":60,"v":0.2},{"y":101,"x":100,"v":0.22},{"y":101,"x":140,"v":0.35},{"y":101,"x":180,"v":0.75},
{"y":102,"x":20,"v":0.3},{"y":102,"x":60,"v":0.28},{"y":102,"x":100,"v":0.3},{"y":102,"x":140,"v":0.5},{"y":102,"x":180,"v":0.7},
{"y":103,"x":20,"v":0.25},{"y":103,"x":60,"v":0.25},{"y":103,"x":100,"v":0.3},{"y":103,"x":140,"v":0.45},{"y":103,"x":180,"v":0.68},
{"y":104,"x":20,"v":0.3},{"y":104,"x":60,"v":0.3},{"y":104,"x":100,"v":0.35},{"y":104,"x":140,"v":0.55},{"y":104,"x":180,"v":0.7},
{"y":105,"x":20,"v":0.3},{"y":105,"x":60,"v":0.25},{"y":105,"x":100,"v":0.3},{"y":105,"x":140,"v":0.5},{"y":105,"x":180,"v":0.7},
{"y":106,"x":20,"v":0.4},{"y":106,"x":60,"v":0.42},{"y":106,"x":100,"v":0.5},{"y":106,"x":140,"v":0.6},{"y":106,"x":180,"v":0.72},
{"y":107,"x":20,"v":0.18},{"y":107,"x":60,"v":0.6},{"y":107,"x":100,"v":0.7},{"y":107,"x":140,"v":0.72},{"y":107,"x":180,"v":0.72},
{"y":108,"x":20,"v":0.35},{"y":108,"x":60,"v":0.5},{"y":108,"x":100,"v":0.55},{"y":108,"x":140,"v":0.7},{"y":108,"x":180,"v":0.72},
{"y":109,"x":20,"v":0.38},{"y":109,"x":60,"v":0.4},{"y":109,"x":100,"v":0.45},{"y":109,"x":140,"v":0.55},{"y":109,"x":180,"v":0.68},
{"y":110,"x":20,"v":0.28},{"y":110,"x":60,"v":0.3},{"y":110,"x":100,"v":0.32},{"y":110,"x":140,"v":0.42},{"y":110,"x":180,"v":0.66},
{"y":111,"x":20,"v":0.3},{"y":111,"x":60,"v":0.45},{"y":111,"x":100,"v":0.5},{"y":111,"x":140,"v":0.55},{"y":111,"x":180,"v":0.66},
{"y":112,"x":20,"v":0.35},{"y":112,"x":60,"v":0.4},{"y":112,"x":100,"v":0.42},{"y":112,"x":140,"v":0.45},{"y":112,"x":180,"v":0.66},
{"y":113,"x":20,"v":0.3},{"y":113,"x":60,"v":0.3},{"y":113,"x":100,"v":0.3},{"y":113,"x":140,"v":0.4},{"y":113,"x":180,"v":0.65},
{"y":114,"x":20,"v":0.4},{"y":114,"x":60,"v":0.4},{"y":114,"x":100,"v":0.45},{"y":114,"x":140,"v":0.65},{"y":114,"x":180,"v":0.7},
{"y":115,"x":20,"v":0.2},{"y":115,"x":60,"v":0.25},{"y":115,"x":100,"v":0.3},{"y":115,"x":140,"v":0.65},{"y":115,"x":180,"v":0.78},
{"y":116,"x":20,"v":0.7},{"y":116,"x":60,"v":0.62},{"y":116,"x":100,"v":0.6},{"y":116,"x":140,"v":0.72},{"y":116,"x":180,"v":0.78},
{"y":117,"x":20,"v":0.28},{"y":117,"x":60,"v":0.3},{"y":117,"x":100,"v":0.32},{"y":117,"x":140,"v":0.6},{"y":117,"x":180,"v":0.72},
{"y":118,"x":20,"v":0.3},{"y":118,"x":60,"v":0.32},{"y":118,"x":100,"v":0.38},{"y":118,"x":140,"v":0.55},{"y":118,"x":180,"v":0.72},
{"y":119,"x":20,"v":0.38},{"y":119,"x":60,"v":0.42},{"y":119,"x":100,"v":0.48},{"y":119,"x":140,"v":0.6},{"y":119,"x":180,"v":0.72},
{"y":120,"x":20,"v":0.4},{"y":120,"x":60,"v":0.45},{"y":120,"x":100,"v":0.5},{"y":120,"x":140,"v":0.62},{"y":120,"x":180,"v":0.72},
{"y":121,"x":20,"v":0.42},{"y":121,"x":60,"v":0.45},{"y":121,"x":100,"v":0.5},{"y":121,"x":140,"v":0.62},{"y":121,"x":180,"v":0.72},
{"y":122,"x":20,"v":0.35},{"y":122,"x":60,"v":0.42},{"y":122,"x":100,"v":0.45},{"y":122,"x":140,"v":0.55},{"y":122,"x":180,"v":0.72},
{"y":123,"x":20,"v":0.22},{"y":123,"x":60,"v":0.28},{"y":123,"x":100,"v":0.32},{"y":123,"x":140,"v":0.5},{"y":123,"x":180,"v":0.72},
{"y":124,"x":20,"v":0.22},{"y":124,"x":60,"v":0.22},{"y":124,"x":100,"v":0.28},{"y":124,"x":140,"v":0.45},{"y":124,"x":180,"v":0.72},
{"y":125,"x":20,"v":0.25},{"y":125,"x":60,"v":0.28},{"y":125,"x":100,"v":0.3},{"y":125,"x":140,"v":0.45},{"y":125,"x":180,"v":0.7},
{"y":126,"x":20,"v":0.25},{"y":126,"x":60,"v":0.3},{"y":126,"x":100,"v":0.35},{"y":126,"x":140,"v":0.5},{"y":126,"x":180,"v":0.72},
{"y":127,"x":20,"v":0.25},{"y":127,"x":60,"v":0.28},{"y":127,"x":100,"v":0.38},{"y":127,"x":140,"v":0.52},{"y":127,"x":180,"v":0.72},
{"y":128,"x":20,"v":0.22},{"y":128,"x":60,"v":0.45},{"y":128,"x":100,"v":0.5},{"y":128,"x":140,"v":0.6},{"y":128,"x":180,"v":0.72},
{"y":129,"x":20,"v":0.72},{"y":129,"x":60,"v":0.75},{"y":129,"x":100,"v":0.72},{"y":129,"x":140,"v":0.72},{"y":129,"x":180,"v":0.72},
{"y":130,"x":20,"v":0.55},{"y":130,"x":60,"v":0.55},{"y":130,"x":100,"v":0.6},{"y":130,"x":140,"v":0.65},{"y":130,"x":180,"v":0.72},
{"y":131,"x":20,"v":0.22},{"y":131,"x":60,"v":0.28},{"y":131,"x":100,"v":0.3},{"y":131,"x":140,"v":0.35},{"y":131,"x":180,"v":0.72},
{"y":132,"x":20,"v":0.4},{"y":132,"x":60,"v":0.4},{"y":132,"x":100,"v":0.42},{"y":132,"x":140,"v":0.5},{"y":132,"x":180,"v":0.65},
{"y":133,"x":20,"v":0.45},{"y":133,"x":60,"v":0.45},{"y":133,"x":100,"v":0.5},{"y":133,"x":140,"v":0.55},{"y":133,"x":180,"v":0.62},
{"y":134,"x":20,"v":0.3},{"y":134,"x":60,"v":0.4},{"y":134,"x":100,"v":0.5},{"y":134,"x":140,"v":0.6},{"y":134,"x":180,"v":0.62},
{"y":135,"x":20,"v":0.22},{"y":135,"x":60,"v":0.4},{"y":135,"x":100,"v":0.6},{"y":135,"x":140,"v":0.65},{"y":135,"x":180,"v":0.65},
{"y":136,"x":20,"v":0.25},{"y":136,"x":60,"v":0.42},{"y":136,"x":100,"v":0.62},{"y":136,"x":140,"v":0.7},{"y":136,"x":180,"v":0.7},
{"y":137,"x":20,"v":0.5},{"y":137,"x":60,"v":0.5},{"y":137,"x":100,"v":0.65},{"y":137,"x":140,"v":0.7},{"y":137,"x":180,"v":0.7},
{"y":138,"x":20,"v":0.3},{"y":138,"x":60,"v":0.4},{"y":138,"x":100,"v":0.5},{"y":138,"x":140,"v":0.7},{"y":138,"x":180,"v":0.7},
{"y":139,"x":20,"v":0.4},{"y":139,"x":60,"v":0.4},{"y":139,"x":100,"v":0.45},{"y":139,"x":140,"v":0.68},{"y":139,"x":180,"v":0.72},
{"y":140,"x":20,"v":0.42},{"y":140,"x":60,"v":0.42},{"y":140,"x":100,"v":0.45},{"y":140,"x":140,"v":0.62},{"y":140,"x":180,"v":0.66},
{"y":141,"x":20,"v":0.35},{"y":141,"x":60,"v":0.35},{"y":141,"x":100,"v":0.42},{"y":141,"x":140,"v":0.55},{"y":141,"x":180,"v":0.58},
{"y":142,"x":20,"v":0.3},{"y":142,"x":60,"v":0.35},{"y":142,"x":100,"v":0.38},{"y":142,"x":140,"v":0.55},{"y":142,"x":180,"v":0.6},
{"y":143,"x":20,"v":0.3},{"y":143,"x":60,"v":0.32},{"y":143,"x":100,"v":0.38},{"y":143,"x":140,"v":0.5},{"y":143,"x":180,"v":0.55},
{"y":144,"x":20,"v":0.32},{"y":144,"x":60,"v":0.35},{"y":144,"x":100,"v":0.42},{"y":144,"x":140,"v":0.5},{"y":144,"x":180,"v":0.55},
{"y":145,"x":20,"v":0.4},{"y":145,"x":60,"v":0.4},{"y":145,"x":100,"v":0.45},{"y":145,"x":140,"v":0.5},{"y":145,"x":180,"v":0.55}
],
"curveB":[
{"r":"pair","x":0,"y":0},{"r":"pair","x":0.18,"y":0.012},{"r":"pair","x":0.28,"y":0.024},{"r":"pair","x":0.46,"y":0.041},{"r":"pair","x":0.5,"y":0.05},{"r":"pair","x":0.52,"y":0.061},{"r":"pair","x":0.56,"y":0.08},{"r":"pair","x":0.58,"y":0.09},{"r":"pair","x":0.6,"y":0.12},{"r":"pair","x":0.62,"y":0.129},{"r":"pair","x":0.64,"y":0.14},{"r":"pair","x":0.66,"y":0.15},{"r":"pair","x":0.68,"y":0.16},{"r":"pair","x":0.7,"y":0.17},{"r":"pair","x":0.72,"y":0.18},{"r":"pair","x":0.74,"y":0.189},{"r":"pair","x":0.76,"y":0.219},{"r":"pair","x":0.78,"y":0.229},{"r":"pair","x":0.8,"y":0.268},{"r":"pair","x":0.82,"y":0.297},{"r":"pair","x":0.84,"y":0.326},{"r":"pair","x":0.86,"y":0.366},{"r":"pair","x":0.88,"y":0.395},{"r":"pair","x":0.9,"y":0.455},{"r":"pair","x":0.92,"y":0.571},{"r":"pair","x":0.94,"y":0.727},{"r":"pair","x":0.96,"y":0.807},{"r":"pair","x":0.98,"y":1},{"r":"pair","x":1,"y":1},
{"r":"triplet","x":0,"y":0.11},{"r":"triplet","x":0.02,"y":0.355},{"r":"triplet","x":0.04,"y":0.522},{"r":"triplet","x":0.062,"y":0.59},{"r":"triplet","x":0.082,"y":0.688},{"r":"triplet","x":0.102,"y":0.747},{"r":"triplet","x":0.122,"y":0.796},{"r":"triplet","x":0.141,"y":0.835},{"r":"triplet","x":0.161,"y":0.923},{"r":"triplet","x":0.179,"y":0.943},{"r":"triplet","x":0.2,"y":0.962},{"r":"triplet","x":0.238,"y":0.972},{"r":"triplet","x":0.258,"y":0.981},{"r":"triplet","x":0.298,"y":0.991},{"r":"triplet","x":0.319,"y":1},{"r":"triplet","x":0.56,"y":1},
{"r":"pair + h","x":0,"y":0},{"r":"pair + h","x":0,"y":0.55},{"r":"pair + h","x":0.02,"y":0.648},{"r":"pair + h","x":0.04,"y":0.727},{"r":"pair + h","x":0.06,"y":0.756},{"r":"pair + h","x":0.08,"y":0.796},{"r":"pair + h","x":0.1,"y":0.816},{"r":"pair + h","x":0.12,"y":0.845},{"r":"pair + h","x":0.14,"y":0.873},{"r":"pair + h","x":0.18,"y":0.884},{"r":"pair + h","x":0.2,"y":0.913},{"r":"pair + h","x":0.22,"y":0.923},{"r":"pair + h","x":0.28,"y":0.943},{"r":"pair + h","x":0.3,"y":0.962},{"r":"pair + h","x":0.32,"y":0.972},{"r":"pair + h","x":0.44,"y":0.981},{"r":"pair + h","x":0.48,"y":0.992},{"r":"pair + h","x":0.56,"y":1},{"r":"pair + h","x":0.775,"y":1},
{"r":"triplet + h","x":0,"y":0},{"r":"triplet + h","x":0,"y":0.02},{"r":"triplet + h","x":0.02,"y":0.05},{"r":"triplet + h","x":0.042,"y":0.109},{"r":"triplet + h","x":0.062,"y":0.14},{"r":"triplet + h","x":0.082,"y":0.18},{"r":"triplet + h","x":0.103,"y":0.226},{"r":"triplet + h","x":0.123,"y":0.257},{"r":"triplet + h","x":0.143,"y":0.336},{"r":"triplet + h","x":0.162,"y":0.393},{"r":"triplet + h","x":0.182,"y":0.483},{"r":"triplet + h","x":0.2,"y":0.531},{"r":"triplet + h","x":0.222,"y":0.571},{"r":"triplet + h","x":0.243,"y":0.58},{"r":"triplet + h","x":0.26,"y":0.601},{"r":"triplet + h","x":0.28,"y":0.648},{"r":"triplet + h","x":0.3,"y":0.668},{"r":"triplet + h","x":0.32,"y":0.707},{"r":"triplet + h","x":0.34,"y":0.727},{"r":"triplet + h","x":0.36,"y":0.756},{"r":"triplet + h","x":0.38,"y":0.775},{"r":"triplet + h","x":0.4,"y":0.795},{"r":"triplet + h","x":0.42,"y":0.815},{"r":"triplet + h","x":0.44,"y":0.844},{"r":"triplet + h","x":0.46,"y":0.883},{"r":"triplet + h","x":0.48,"y":0.903},{"r":"triplet + h","x":0.5,"y":0.912},{"r":"triplet + h","x":0.54,"y":0.941},{"r":"triplet + h","x":0.56,"y":0.952},{"r":"triplet + h","x":0.58,"y":0.961},{"r":"triplet + h","x":0.62,"y":0.971},{"r":"triplet + h","x":0.64,"y":0.981},{"r":"triplet + h","x":0.66,"y":0.991},{"r":"triplet + h","x":0.78,"y":1},{"r":"triplet + h","x":1,"y":1},{"r":"triplet + h","x":1,"y":0}
],
"curveD":[
{"r":"pair","x":0,"y":0},{"r":"pair","x":0.003,"y":0.017},{"r":"pair","x":0.006,"y":0.025},{"r":"pair","x":0.009,"y":0.035},{"r":"pair","x":0.012,"y":0.066},{"r":"pair","x":0.015,"y":0.1},{"r":"pair","x":0.018,"y":0.127},{"r":"pair","x":0.021,"y":0.155},{"r":"pair","x":0.024,"y":0.213},{"r":"pair","x":0.027,"y":0.253},{"r":"pair","x":0.03,"y":0.326},{"r":"pair","x":0.033,"y":0.386},{"r":"pair","x":0.036,"y":0.439},{"r":"pair","x":0.039,"y":0.495},{"r":"pair","x":0.042,"y":0.555},{"r":"pair","x":0.045,"y":0.617},{"r":"pair","x":0.048,"y":0.657},{"r":"pair","x":0.051,"y":0.693},{"r":"pair","x":0.054,"y":0.716},{"r":"pair","x":0.057,"y":0.735},{"r":"pair","x":0.06,"y":0.746},{"r":"pair","x":0.063,"y":0.781},{"r":"pair","x":0.066,"y":0.825},{"r":"pair","x":0.069,"y":0.84},{"r":"pair","x":0.072,"y":0.871},{"r":"pair","x":0.075,"y":0.892},{"r":"pair","x":0.078,"y":0.912},{"r":"pair","x":0.081,"y":0.931},{"r":"pair","x":0.084,"y":0.958},{"r":"pair","x":0.087,"y":0.965},{"r":"pair","x":0.09,"y":0.969},{"r":"pair","x":0.093,"y":0.976},{"r":"pair","x":0.099,"y":0.983},{"r":"pair","x":0.102,"y":0.989},
{"r":"triplet","x":0,"y":0.046},{"r":"triplet","x":0.005,"y":0.072},{"r":"triplet","x":0.01,"y":0.135},{"r":"triplet","x":0.015,"y":0.26},{"r":"triplet","x":0.02,"y":0.346},{"r":"triplet","x":0.025,"y":0.457},{"r":"triplet","x":0.03,"y":0.525},{"r":"triplet","x":0.035,"y":0.582},{"r":"triplet","x":0.04,"y":0.66},{"r":"triplet","x":0.045,"y":0.722},{"r":"triplet","x":0.05,"y":0.744},{"r":"triplet","x":0.055,"y":0.754},{"r":"triplet","x":0.06,"y":0.798},{"r":"triplet","x":0.065,"y":0.834},{"r":"triplet","x":0.07,"y":0.887},{"r":"triplet","x":0.075,"y":0.937},{"r":"triplet","x":0.08,"y":0.981},{"r":"triplet","x":0.085,"y":0.986},{"r":"triplet","x":0.095,"y":0.99},{"r":"triplet","x":0.1,"y":0.99},
{"r":"triplet + h","x":0,"y":0.014},{"r":"triplet + h","x":0.005,"y":0.03},{"r":"triplet + h","x":0.01,"y":0.094},{"r":"triplet + h","x":0.015,"y":0.198},{"r":"triplet + h","x":0.02,"y":0.317},{"r":"triplet + h","x":0.025,"y":0.422},{"r":"triplet + h","x":0.03,"y":0.552},{"r":"triplet + h","x":0.035,"y":0.638},{"r":"triplet + h","x":0.04,"y":0.749},{"r":"triplet + h","x":0.045,"y":0.812},{"r":"triplet + h","x":0.05,"y":0.831},{"r":"triplet + h","x":0.055,"y":0.854},{"r":"triplet + h","x":0.065,"y":0.895},{"r":"triplet + h","x":0.07,"y":0.926},{"r":"triplet + h","x":0.075,"y":0.96},{"r":"triplet + h","x":0.08,"y":0.983},{"r":"triplet + h","x":0.085,"y":0.992},{"r":"triplet + h","x":0.1002,"y":0.992},
{"r":"pair + h","x":0,"y":0},{"r":"pair + h","x":0,"y":0.116},{"r":"pair + h","x":0.01,"y":0.453},{"r":"pair + h","x":0.02,"y":0.61},{"r":"pair + h","x":0.03,"y":0.666},{"r":"pair + h","x":0.04,"y":0.685},{"r":"pair + h","x":0.05,"y":0.695},{"r":"pair + h","x":0.06,"y":0.867},{"r":"pair + h","x":0.07,"y":0.965},{"r":"pair + h","x":0.08,"y":1},{"r":"pair + h","x":0.09,"y":1}
],
"info":[{"v":0.0125},{"v":0.0375},{"v":0.0625},{"v":0.0875},{"v":0.1125},{"v":0.1375},{"v":0.1625},{"v":0.1875},{"v":0.2125},{"v":0.2375},{"v":0.2625},{"v":0.2875},{"v":0.3125},{"v":0.3375},{"v":0.3625},{"v":0.3875},{"v":0.4125},{"v":0.4375},{"v":0.4625},{"v":0.4875},{"v":0.5125},{"v":0.5375},{"v":0.5625},{"v":0.5875},{"v":0.6125},{"v":0.6375},{"v":0.6625},{"v":0.6875},{"v":0.7125},{"v":0.7375},{"v":0.7625},{"v":0.7875},{"v":0.8125},{"v":0.8325}]
},
"concat":[
{"width":363,"height":305,
"layer":[
{"data":{"values":[{"x":0,"x2":200,"y":33.5,"y2":145.5}]},"mark":{"type":"rect","fill":"#0e71b8"},
"encoding":{"x":{"field":"x","type":"quantitative","scale":{"domain":[0,200],"range":[0,363],"nice":false,"zero":false},"axis":{"values":[50,100,150,200],"title":"ICs ordered by dominant weight projection","titleFontSize":20.8,"titleX":193.5,"offset":-6,"titlePadding":13}},"x2":{"field":"x2"},"y":{"field":"y","type":"quantitative","scale":{"domain":[33.5,145.5],"range":[0,299],"nice":false,"zero":false},"axis":{"values":[40,60,80,100,120,140],"labelExpr":"''+datum.value/1000","labelPadding":18.5,"title":"cell set pred-I","titleY":156,"titlePadding":6}},"y2":{"field":"y2"}}},
{"data":{"name":"ruleCells"},"mark":{"type":"rule","strokeWidth":2.7,"strokeCap":"butt"},
"encoding":{"x":{"field":"x","type":"quantitative"},"x2":{"field":"x2"},"y":{"field":"y","type":"quantitative"},"color":{"field":"k","type":"nominal","scale":{"domain":[1,2,3],"range":["#dc5a25","#edb120","#7e2f8e"]},"legend":null}}},
{"data":{"values":[{"x":0,"x2":200,"y":33.5,"y2":145.5}]},"mark":{"type":"rect","fill":null,"stroke":"#555","strokeWidth":1.5},"encoding":{"x":{"field":"x","type":"quantitative"},"x2":{"field":"x2"},"y":{"field":"y","type":"quantitative"},"y2":{"field":"y2"}}},
{"data":{"values":[{"x":0,"y":27.9,"t":"best learning rule by set and initial condition"}]},"mark":{"type":"text","fontSize":16.5,"fontWeight":"bold","align":"left","baseline":"middle","color":"#222"},"encoding":{"x":{"field":"x","type":"quantitative"},"y":{"field":"y","type":"quantitative"},"text":{"field":"t"}}},
{"data":{"values":[{"x":-37.5,"y":20,"t":"A"}]},"mark":{"type":"text","fontSize":37,"align":"left","baseline":"alphabetic","color":"#222"},"encoding":{"x":{"field":"x","type":"quantitative"},"y":{"field":"y","type":"quantitative"},"text":{"field":"t"}}}
]},
{"width":171.5,"height":305,
"layer":[
{"data":{"values":[{"y":0,"y2":1,"k":"pair"},{"y":1,"y2":2,"k":"triplet"},{"y":2,"y2":3,"k":"pair + homestasis"},{"y":3,"y2":4,"k":"triplet + homeostasis"}]},"mark":{"type":"rect"},
"encoding":{"x":{"datum":0,"type":"quantitative","scale":{"domain":[0,1],"range":[0,33],"nice":false},"axis":null},"x2":{"datum":1},"y":{"field":"y","type":"quantitative","scale":{"domain":[0,4],"range":[0,299],"nice":false},"axis":null},"y2":{"field":"y2"},"color":{"field":"k","type":"nominal","scale":{"domain":["pair","triplet","pair + homestasis","triplet + homeostasis"],"range":["#0e71b8","#dc5a25","#edb120","#7e2f8e"]},"legend":null}}},
{"data":{"values":[{"x":0,"x2":1,"y":0,"y2":4}]},"mark":{"type":"rule","color":"white","opacity":0.3,"strokeWidth":1},"encoding":{"x":{"field":"x","type":"quantitative"},"x2":{"field":"x2"},"y":{"field":"y","type":"quantitative"},"y2":{"field":"y2"}}},
{"data":{"values":[{"x":0,"x2":1,"y":0,"y2":4}]},"mark":{"type":"rect","fill":null,"stroke":"#555","strokeWidth":1.5},"encoding":{"x":{"field":"x","type":"quantitative"},"x2":{"field":"x2"},"y":{"field":"y","type":"quantitative"},"y2":{"field":"y2"}}},
{"data":{"values":[{"x":0.9,"x2":1,"y":1.33},{"x":0.9,"x2":1,"y":2.66}]},"mark":{"type":"rule","color":"#555"},"encoding":{"x":{"field":"x","type":"quantitative"},"x2":{"field":"x2"},"y":{"field":"y","type":"quantitative"}}},
{"data":{"values":[{"x":1.2,"y":0.43,"t":"pair"},{"x":1.2,"y":1.43,"t":"triplet"},{"x":1.2,"y":2.3,"t":"pair +"},{"x":1.2,"y":2.62,"t":"homestasis"},{"x":1.2,"y":3.26,"t":"triplet +"},{"x":1.2,"y":3.59,"t":"homeostasis"}]},"mark":{"type":"text","fontSize":18.5,"align":"left","baseline":"middle"},"encoding":{"x":{"field":"x","type":"quantitative"},"y":{"field":"y","type":"quantitative"},"text":{"field":"t"}}}
]},
{"width":286,"height":305,
"layer":[
{"data":{"name":"curveB"},"mark":{"type":"line","interpolate":"step-after","strokeWidth":3},
"encoding":{"x":{"field":"x","type":"quantitative","scale":{"domain":[0,1],"nice":false},"axis":{"values":[0,0.2,0.4,0.6,0.8,1],"labelExpr":"''+datum.value","title":"fraction of initial conditions","titleFontSize":22,"titlePadding":8}},"y":{"field":"y","type":"quantitative","scale":{"domain":[0,1],"range":[305,21],"nice":false},"axis":{"values":[0,0.2,0.4,0.6,0.8,1],"labelExpr":"''+datum.value","labelPadding":13,"title":"fraction of cell sets","titleFontSize":21.5,"titleY":168,"titlePadding":3}},"color":{"field":"r","type":"nominal","scale":{"domain":["pair","triplet","pair + h","triplet + h"],"range":["#0e71b8","#dc5a25","#edb120","#7e2f8e"]},"legend":null},"order":{"field":"x"}}},
{"data":{"values":[{"r":"pair","x":1.097,"x2":1.329,"y":0.752,"y2":0.694},{"r":"triplet","x":1.097,"x2":1.329,"y":0.673,"y2":0.613},{"r":"pair + h","x":1.097,"x2":1.329,"y":0.592,"y2":0.532},{"r":"triplet + h","x":1.097,"x2":1.329,"y":0.511,"y2":0.451}]},"mark":{"type":"rect","fill":null,"strokeWidth":1.5},"encoding":{"x":{"field":"x","type":"quantitative"},"x2":{"field":"x2"},"y":{"field":"y","type":"quantitative"},"y2":{"field":"y2"},"stroke":{"field":"r","type":"nominal","scale":{"domain":["pair","triplet","pair + h","triplet + h"],"range":["#0e71b8","#dc5a25","#edb120","#7e2f8e"]},"legend":null}}},
{"data":{"values":[{"x":1.353,"y":0.723,"t":"pair"},{"x":1.353,"y":0.643,"t":"triplet"},{"x":1.353,"y":0.562,"t":"pair + h"},{"x":1.353,"y":0.481,"t":"triplet + h"}]},"mark":{"type":"text","fontSize":18.5,"align":"left","baseline":"middle"},"encoding":{"x":{"field":"x","type":"quantitative"},"y":{"field":"y","type":"quantitative"},"text":{"field":"t"}}},
{"data":{"values":[{"x":0.503,"y":1.106,"t":"how often is rule X optimal?"}]},"mark":{"type":"text","fontSize":17.7,"fontWeight":"bold","align":"center","baseline":"middle","color":"#222"},"encoding":{"x":{"field":"x","type":"quantitative"},"y":{"field":"y","type":"quantitative"},"text":{"field":"t"}}},
{"data":{"values":[{"x":-0.343,"y":1.2,"t":"B"}]},"mark":{"type":"text","fontSize":37,"align":"left","baseline":"alphabetic","color":"#222"},"encoding":{"x":{"field":"x","type":"quantitative"},"y":{"field":"y","type":"quantitative"},"text":{"field":"t"}}}
]},
{"width":363,"height":307,
"layer":[
{"data":{"name":"infoCells"},"mark":{"type":"rect","width":73,"height":2.8},
"encoding":{"x":{"field":"x","type":"quantitative","scale":{"domain":[0,200],"range":[18.5,381],"nice":false,"zero":false},"axis":{"values":[50,100,150,200],"title":"ICs ordered by dominant weight projection","titleFontSize":20.8,"titleX":217.5,"titlePadding":16}},"y":{"field":"y","type":"quantitative","scale":{"domain":[33.5,145.5],"range":[11,307],"nice":false,"zero":false},"axis":{"values":[40,60,80,100,120,140],"labelExpr":"''+datum.value/1000","labelPadding":12,"title":"cell set pred-I","titleY":160,"offset":-18.5,"titlePadding":22}},"color":{"field":"v","type":"quantitative","scale":{"domain":[0,0.1,0.2,0.3,0.4,0.5,0.6,0.7,0.8,0.843],"range":["#2e2a87","#2b50a8","#2275c0","#0f9fcb","#15b29c","#6cb98a","#b5ae63","#f8ae2e","#f5dc1c","#f2ee1e"]},"legend":null}}},
{"data":{"values":[{"x":0,"x2":200,"y":33.5,"y2":145.5}]},"mark":{"type":"rect","fill":null,"stroke":"#555","strokeWidth":1.5},"encoding":{"x":{"field":"x","type":"quantitative"},"x2":{"field":"x2"},"y":{"field":"y","type":"quantitative"},"y2":{"field":"y2"}}},
{"data":{"values":[{"x":-17.1,"y":27.4,"t":"recovered predictive info by set and initial condition"}]},"mark":{"type":"text","fontSize":17.7,"fontWeight":"bold","align":"left","baseline":"middle","color":"#222"},"encoding":{"x":{"field":"x","type":"quantitative"},"y":{"field":"y","type":"quantitative"},"text":{"field":"t"}}},
{"data":{"values":[{"x":-46,"y":26.3,"t":"C"}]},"mark":{"type":"text","fontSize":37,"align":"left","baseline":"alphabetic","color":"#222"},"encoding":{"x":{"field":"x","type":"quantitative"},"y":{"field":"y","type":"quantitative"},"text":{"field":"t"}}}
]},
{"width":171.5,"height":307,
"layer":[
{"data":{"name":"info"},"mark":{"type":"rule","strokeWidth":9,"strokeCap":"butt"},
"encoding":{"x":{"datum":0,"type":"quantitative","scale":{"domain":[0,1],"range":[17.5,49.5],"nice":false},"axis":null},"x2":{"datum":1},"y":{"field":"v","type":"quantitative","scale":{"domain":[0,0.843],"range":[307,11],"nice":false},"axis":null},"color":{"field":"v","type":"quantitative","scale":{"domain":[0,0.1,0.2,0.3,0.4,0.5,0.6,0.7,0.8,0.843],"range":["#2e2a87","#2b50a8","#2275c0","#0f9fcb","#15b29c","#6cb98a","#b5ae63","#f8ae2e","#f5dc1c","#f2ee1e"]},"legend":null}}},
{"data":{"values":[{"x":0.05,"x2":0.95,"y":0,"y2":0.843}]},"mark":{"type":"rule","color":"white","opacity":0.25,"strokeWidth":1},"encoding":{"x":{"field":"x","type":"quantitative"},"x2":{"field":"x2"},"y":{"field":"y","type":"quantitative"},"y2":{"field":"y2"}}},
{"data":{"values":[{"x":0,"x2":1,"y":0,"y2":0.843}]},"mark":{"type":"rect","fill":null,"stroke":"#555","strokeWidth":1.5},"encoding":{"x":{"field":"x","type":"quantitative"},"x2":{"field":"x2"},"y":{"field":"y","type":"quantitative"},"y2":{"field":"y2"}}},
{"data":{"values":[{"x":0.9,"x2":1,"y":0.1},{"x":0.9,"x2":1,"y":0.2},{"x":0.9,"x2":1,"y":0.3},{"x":0.9,"x2":1,"y":0.4},{"x":0.9,"x2":1,"y":0.5},{"x":0.9,"x2":1,"y":0.6},{"x":0.9,"x2":1,"y":0.7},{"x":0.9,"x2":1,"y":0.8}]},"mark":{"type":"rule","color":"#555"},"encoding":{"x":{"field":"x","type":"quantitative"},"x2":{"field":"x2"},"y":{"field":"y","type":"quantitative"}}},
{"data":{"values":[{"x":1.25,"y":0,"t":"0"},{"x":1.25,"y":0.2,"t":"0.2"},{"x":1.25,"y":0.4,"t":"0.4"},{"x":1.25,"y":0.6,"t":"0.6"},{"x":1.25,"y":0.8,"t":"0.8"}]},"mark":{"type":"text","fontSize":18,"align":"left","baseline":"middle"},"encoding":{"x":{"field":"x","type":"quantitative"},"y":{"field":"y","type":"quantitative"},"text":{"field":"t"}}}
]},
{"width":286,"height":307,
"layer":[
{"data":{"name":"curveD"},"mark":{"type":"line","interpolate":"step-after","strokeWidth":3},
"encoding":{"x":{"field":"x","type":"quantitative","scale":{"domain":[0,0.1033],"range":[24,336],"nice":false,"zero":false},"axis":{"values":[0,0.05,0.1],"labelExpr":"''+datum.value","labelPadding":12,"title":"learned predictive info","titleX":175,"offset":-5,"titlePadding":10,"titleFontSize":22}},"y":{"field":"y","type":"quantitative","scale":{"domain":[0,1],"range":[302,0],"nice":false},"axis":{"values":[0,0.2,0.4,0.6,0.8,1],"labelExpr":"''+datum.value","labelPadding":13,"title":["fraction of simulations","w/optimal rule X"],"titleFontSize":20,"titleLineHeight":26,"titleY":162,"offset":-24,"titlePadding":20}},"color":{"field":"r","type":"nominal","scale":{"domain":["pair","triplet","pair + h","triplet + h"],"range":["#0e71b8","#dc5a25","#edb120","#7e2f8e"]},"legend":null},"order":{"field":"x"}}},
{"data":{"values":[{"r":"pair","x":0.0882,"x2":0.1106,"y":0.642,"y2":0.587},{"r":"triplet","x":0.0882,"x2":0.1106,"y":0.566,"y2":0.511},{"r":"pair + h","x":0.0882,"x2":0.1106,"y":0.49,"y2":0.435},{"r":"triplet + h","x":0.0882,"x2":0.1106,"y":0.414,"y2":0.358}]},"mark":{"type":"rect","fill":null,"strokeWidth":1.5},"encoding":{"x":{"field":"x","type":"quantitative"},"x2":{"field":"x2"},"y":{"field":"y","type":"quantitative"},"y2":{"field":"y2"},"stroke":{"field":"r","type":"nominal","scale":{"domain":["pair","triplet","pair + h","triplet + h"],"range":["#0e71b8","#dc5a25","#edb120","#7e2f8e"]},"legend":null}}},
{"data":{"values":[{"x":0.1129,"y":0.615,"t":"pair"},{"x":0.1129,"y":0.539,"t":"triplet"},{"x":0.1129,"y":0.463,"t":"pair + h"},{"x":0.1129,"y":0.386,"t":"triplet + h"}]},"mark":{"type":"text","fontSize":18.5,"align":"left","baseline":"middle"},"encoding":{"x":{"field":"x","type":"quantitative"},"y":{"field":"y","type":"quantitative"},"text":{"field":"t"}}},
{"data":{"values":[{"x":-0.04,"y":1.026,"t":"D"}]},"mark":{"type":"text","fontSize":37,"align":"left","baseline":"alphabetic","color":"#222"},"encoding":{"x":{"field":"x","type":"quantitative"},"y":{"field":"y","type":"quantitative"},"text":{"field":"t"}}}
]}
]}
